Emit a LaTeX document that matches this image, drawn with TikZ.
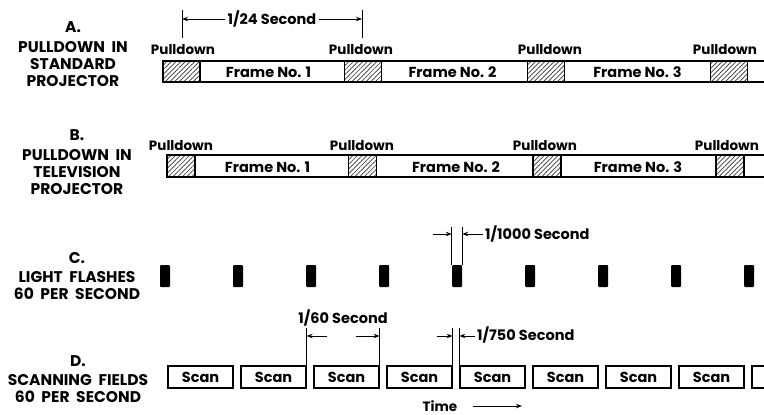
\documentclass[tikz,border=0pt]{standalone}
\usepackage{fontspec}
\setmainfont{Poppins}
\usetikzlibrary{patterns.meta,arrows.meta}
\begin{document}
\begin{tikzpicture}[x=1pt,y=-1pt,
  every node/.style={inner sep=0pt},
  lbl/.style={font=\fontsize{15.5}{17}\selectfont\bfseries, align=center},
  pull/.style={font=\fontsize{13.5}{15}\selectfont\bfseries},
  frm/.style={font=\fontsize{14.5}{16}\selectfont\bfseries},
  dimtxt/.style={font=\fontsize{14.5}{16}\selectfont\bfseries, inner sep=2pt},
  bar/.style={line width=1.4pt},
  hatchA/.style={draw, line width=1.2pt, minimum width=37pt, minimum height=21pt,
    pattern={Lines[angle=45,distance=3.3pt,line width=0.7pt]}, pattern color=black!80},
  hatchB/.style={hatchA, minimum width=28pt, minimum height=22pt},
  flash/.style={fill=black, minimum width=10pt, minimum height=22pt, rounded corners=1pt},
  scanbox/.style={draw, line width=1.3pt, minimum width=65pt, minimum height=22pt,
    font=\fontsize{14.5}{16}\selectfont\bfseries},
  dim/.style={line width=1pt},
  arr/.style={-{Stealth[length=6pt,width=4.5pt]}, line width=1pt}
]
\useasboundingbox (0,0) rectangle (764,415);
\clip (0,0) rectangle (764,415);

% ---------- A ----------
\node[lbl] (labA) at (73,54) {A.\\[3pt]PULLDOWN\ \ IN\\STANDARD\\PROJECTOR};
\draw[bar] (163,61) rectangle (790,82);
\node[hatchA] (pa1) at (181.5,71.5) {};
\node[hatchA] (pa2) at (363,71.5) {};
\node[hatchA] (pa3) at (546,71.5) {};
\node[hatchA] (pa4) at (729,71.5) {};
\node[pull] (pla1) at (183,50) {Pulldown};
\node[pull] (pla2) at (361,50) {Pulldown};
\node[pull] (pla3) at (550,50) {Pulldown};
\node[pull] (pla4) at (725,50) {Pulldown};
\node[frm] (fa1) at (268.5,72) {Frame No. 1};
\node[frm] (fa2) at (452.5,72) {Frame No. 2};
\node[frm] (fa3) at (637.5,72) {Frame No. 3};
% 1/24 second
\coordinate (v24a) at (182,10);
\coordinate (v24ab) at (182,38);
\coordinate (v24b) at (362,10);
\coordinate (v24bb) at (362,38);
\draw[dim] (v24a) -- (v24ab);
\draw[dim] (v24b) -- (v24bb);
\node[dimtxt] (t24) at (272,19) {1/24 Second};
\draw[arr] (t24.west) -- (v24a |- t24);
\draw[arr] (t24.east) -- (v24b |- t24);

% ---------- B ----------
\node[lbl] (labB) at (77,162) {B.\\[3pt]PULLDOWN\ \ IN\\TELEVISION\\PROJECTOR};
\draw[bar] (167,155) rectangle (790,177);
\node[hatchB] (pb1) at (181,166) {};
\node[hatchB] (pb2) at (362.5,166) {};
\node[hatchB] (pb3) at (547,166) {};
\node[hatchB] (pb4) at (730,166) {};
\node[pull] (plb1) at (181,146) {Pulldown};
\node[pull] (plb2) at (362,146) {Pulldown};
\node[pull] (plb3) at (545,146) {Pulldown};
\node[pull] (plb4) at (727,146) {Pulldown};
\node[frm] (fb1) at (267.5,167) {Frame No. 1};
\node[frm] (fb2) at (456,167) {Frame No. 2};
\node[frm] (fb3) at (638,167) {Frame No. 3};

% ---------- C ----------
\node[lbl] (labC) at (77,276) {C.\\[2pt]LIGHT\ \ FLASHES\\60\ \ PER\ \ SECOND};
\foreach \i in {0,...,8} {
  \node[flash] (fl\i) at (165+73*\i,276) {};
}
\coordinate (c1) at (fl4.north west |- 0,227);
\coordinate (c2) at (fl4.north east |- 0,227);
\draw[dim] (fl4.north west) -- (c1);
\draw[dim] (fl4.north east) -- (c2);
\node[dimtxt, anchor=west] (t1000) at (483,234) {1/1000 Second};
\coordinate (a1000) at (433,234);
\draw[arr] (a1000) -- (fl4.north west |- a1000);
\draw[arr] (t1000.west) -- (fl4.north east |- a1000);

% ---------- D ----------
\node[lbl] (labD) at (78,379) {D.\\[2pt]SCANNING\ \ FIELDS\\60\ \ PER\ \ SECOND};
\foreach \i in {0,...,7} {
  \node[scanbox] (sc\i) at (200.5+73*\i,377) {Scan};
}
\node[scanbox] (sc8) at (200.5+73*8,377) {};
% 1/60 second
\coordinate (s60a) at (sc1.north east |- 0,328);
\coordinate (s60b) at (sc2.north east |- 0,328);
\draw[dim] (sc1.north east) -- (s60a);
\draw[dim] (sc2.north east) -- (s60b);
\node[dimtxt] (t60) at (343,318) {1/60 Second};
\coordinate (a60a) at (327,336);
\coordinate (a60b) at (356,336);
\draw[arr] (a60a) -- (s60a |- a60a);
\draw[arr] (a60b) -- (s60b |- a60b);
% 1/750 second
\coordinate (s750a) at (sc3.north east |- 0,328);
\coordinate (s750b) at (sc4.north west |- 0,328);
\draw[dim] (sc3.north east) -- (s750a);
\draw[dim] (sc4.north west) -- (s750b);
\node[dimtxt, anchor=west] (t750) at (475,335) {1/750 Second};
\coordinate (a750) at (437,336);
\draw[arr] (a750) -- (s750a |- a750);
\draw[arr] (t750.west |- a750) -- (s750b |- a750);
% time
\node[font=\fontsize{13.5}{15}\selectfont\bfseries] (time) at (440,406) {Time};
\coordinate (tarr) at (522,406);
\draw[arr] ([xshift=16pt]time.east) -- (tarr);
\end{tikzpicture}
\end{document}
